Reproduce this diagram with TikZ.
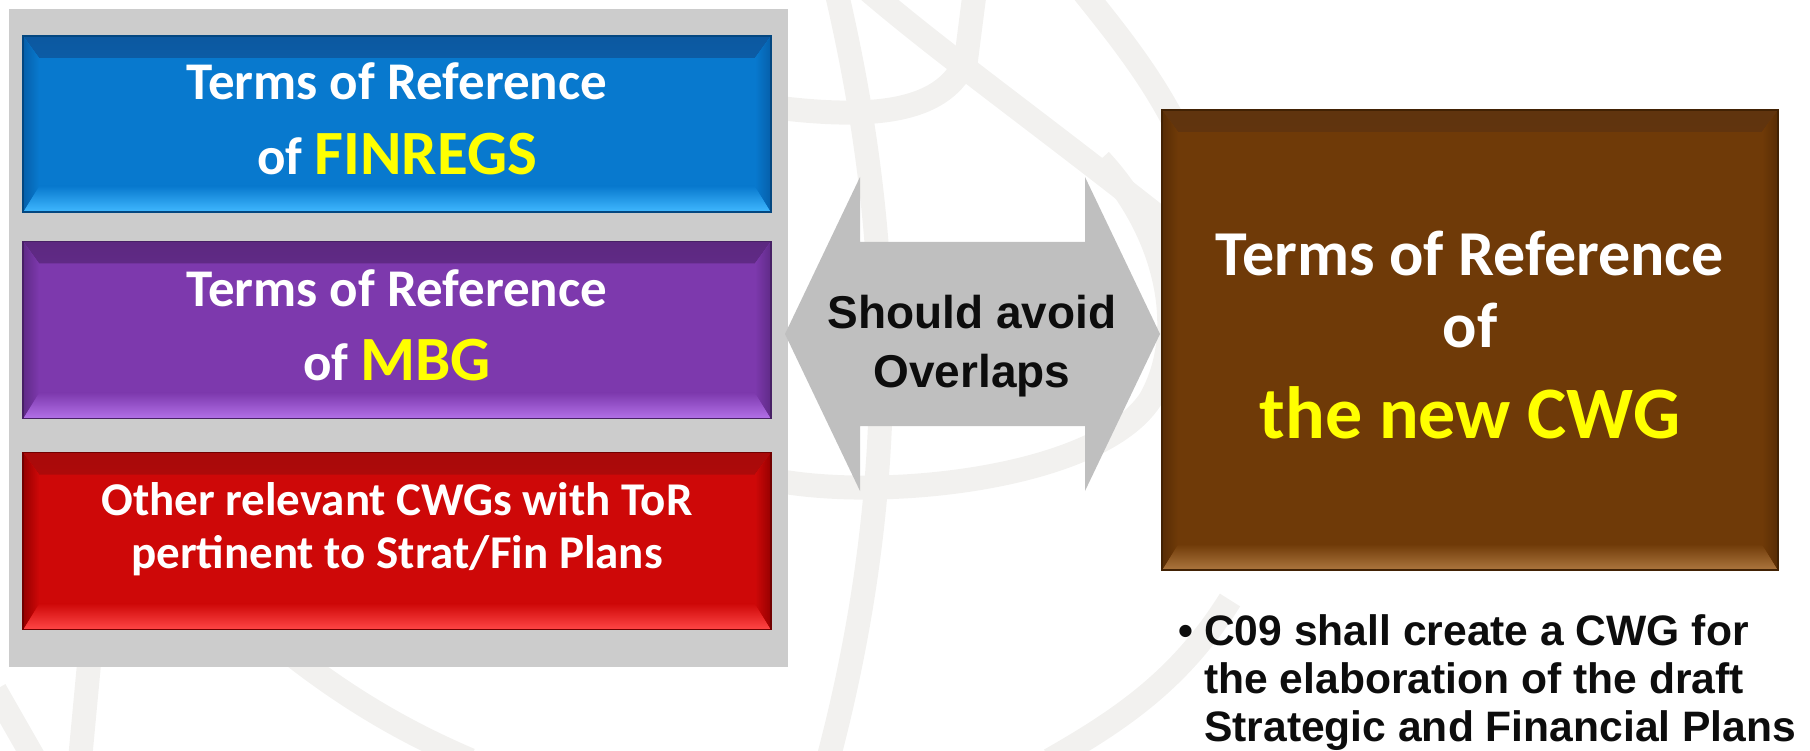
\documentclass[tikz,border=0pt]{standalone}
\usepackage{fontspec}
\setmainfont{Carlito}
\newfontfamily\arialfont{Liberation Sans}

\definecolor{panelgray}{RGB}{204,204,204}
\definecolor{arrowgray}{RGB}{191,191,191}
\definecolor{wmgray}{RGB}{242,241,239}
\definecolor{torblue}{RGB}{8,121,206}
\definecolor{torblueD}{RGB}{12,88,160}
\definecolor{torblueL}{RGB}{64,184,255}
\definecolor{torblueS}{RGB}{6,95,170}
\definecolor{torpurple}{RGB}{125,57,173}
\definecolor{torpurpleD}{RGB}{92,40,128}
\definecolor{torpurpleL}{RGB}{178,112,232}
\definecolor{torpurpleS}{RGB}{95,42,135}
\definecolor{torred}{RGB}{206,8,8}
\definecolor{torredD}{RGB}{168,10,10}
\definecolor{torredL}{RGB}{255,70,70}
\definecolor{torredS}{RGB}{150,0,0}
\definecolor{torbrown}{RGB}{111,58,8}
\definecolor{torbrownD}{RGB}{96,52,14}
\definecolor{torbrownL}{RGB}{172,118,62}
\definecolor{torbrownS}{RGB}{88,45,5}
\definecolor{hiyellow}{RGB}{255,255,0}

\tikzset{
  bevelbox/.style n args={4}{rectangle, inner sep=0pt, fill=#1, draw=#4!75!black, line width=1.5,
    path picture={
      \fill[top color=#2, bottom color=#1] (path picture bounding box.north west) -- (path picture bounding box.north east)
        -- ([shift={(-16,22)}]path picture bounding box.north east) -- ([shift={(16,22)}]path picture bounding box.north west) -- cycle;
      \fill[top color=#1, bottom color=#3] (path picture bounding box.south west) -- (path picture bounding box.south east)
        -- ([shift={(-16,-26)}]path picture bounding box.south east) -- ([shift={(16,-26)}]path picture bounding box.south west) -- cycle;
      \fill[left color=#4, right color=#1] (path picture bounding box.north west) -- ([shift={(16,22)}]path picture bounding box.north west)
        -- ([shift={(16,-26)}]path picture bounding box.south west) -- (path picture bounding box.south west) -- cycle;
      \fill[left color=#1, right color=#4] (path picture bounding box.north east) -- ([shift={(-16,22)}]path picture bounding box.north east)
        -- ([shift={(-16,-26)}]path picture bounding box.south east) -- (path picture bounding box.south east) -- cycle;
    }},
  tortext/.style={text=white, anchor=base, inner sep=0pt, font=\bfseries\fontsize{#1}{#1}\selectfont},
  blacktext/.style={text=black!95, inner sep=0pt, font=\arialfont\bfseries\fontsize{#1}{#1}\selectfont},
  wmline/.style={wmgray, line width=24},
}

\begin{document}
\begin{tikzpicture}[x=1pt,y=-1pt]
  \useasboundingbox (0,0) rectangle (1810,751);

  % faint globe lines in the background
  \draw[wmline] (836,-10) .. controls (885,200) and (910,450) .. (828,760);
  \draw[wmline] (868,-10) .. controls (950,60) and (1050,130) .. (1200,250);
  \draw[wmline] (1082,-10) .. controls (1130,50) and (1170,100) .. (1200,180);
  \draw[wmline] (785,482) .. controls (900,500) and (1100,475) .. (1150,400) .. controls (1190,330) and (1165,230) .. (1100,160);
  \draw[wmline] (975,-10) -- (966,60) .. controls (945,110) and (880,120) .. (780,108);
  \draw[wmline] (95,600) -- (80,760);
  \draw[wmline] (250,620) .. controls (330,690) and (400,730) .. (470,760);
  \draw[wmline] (1230,600) .. controls (1180,680) and (1120,720) .. (1050,760);
  \draw[wmline] (-5,690) -- (35,760);

  % left panel with the three boxes
  \fill[panelgray] (9,9) rectangle (788,667);
  \node[bevelbox={torblue}{torblueD}{torblueL}{torblueS}, minimum width=748, minimum height=176] (finregs) at (397,124) {};
  \node[bevelbox={torpurple}{torpurpleD}{torpurpleL}{torpurpleS}, minimum width=748, minimum height=177] (mbg) at (397,330) {};
  \node[bevelbox={torred}{torredD}{torredL}{torredS}, minimum width=748, minimum height=177] (others) at (397,541) {};

  \node[tortext=53] (finA) at (397,100) {Terms of Reference};
  \node[tortext=53] (finB) at (397,175) {of \textcolor{hiyellow}{\fontsize{63}{63}\selectfont FINREGS}};
  \node[tortext=53] (mbgA) at (397,307) {Terms of Reference};
  \node[tortext=53] (mbgB) at (397,381) {of \textcolor{hiyellow}{\fontsize{63}{63}\selectfont MBG}};
  \node[tortext=47] (othA) at (397,515) {Other relevant CWGs with ToR};
  \node[tortext=47] (othB) at (397,568) {pertinent to Strat/Fin Plans};

  % double arrow
  \fill[arrowgray] (785,334) -- (860,177) -- (860,242) -- (1085,242) -- (1085,177) -- (1160,334)
    -- (1085,491) -- (1085,426) -- (860,426) -- (860,491) -- cycle;
  \node[blacktext=46, anchor=base] (avoidA) at (972,329) {Should avoid};
  \node[blacktext=46, anchor=base] (avoidB) at (972,387) {Overlaps};

  % the new CWG
  \node[bevelbox={torbrown}{torbrownD}{torbrownL}{torbrownS}, minimum width=616, minimum height=460] (newcwg) at (1470,340) {};
  \node[tortext=64] (cwgA) at (1470,276) {Terms of Reference};
  \node[tortext=64] (cwgB) at (1470,348) {of};
  \node[tortext=74, text=hiyellow] (cwgC) at (1470,438) {the new CWG};

  % bullet below
  \node[blacktext=42.6, anchor=base west] (noteA) at (1204,645) {\llap{\textbullet\hspace{11pt}}C09 shall create a CWG for};
  \node[blacktext=42.6, anchor=base west] (noteB) at (1204,693) {the elaboration of the draft};
  \node[blacktext=42.6, anchor=base west] (noteC) at (1204,741) {Strategic and Financial Plans};
\end{tikzpicture}
\end{document}
